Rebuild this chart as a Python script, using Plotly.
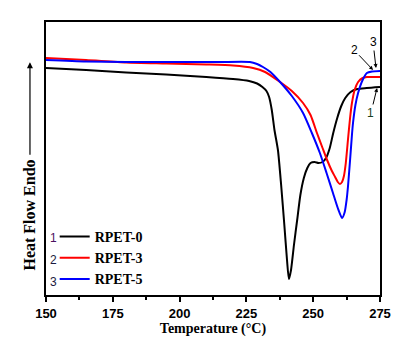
import plotly.graph_objects as go

# Temperature (°C) and heat flow (arbitrary units, endo up)
t_rpet0 = [150, 165, 180, 195, 210, 220, 226, 229, 231, 232.5, 233.5, 234.5, 235.5, 236.8, 238, 239.2,
           240.2, 240.9, 241.7, 242.8, 244, 245.2, 246.5, 247.8, 249, 250.5, 252, 253.5, 254.8, 256.2,
           257.5, 259, 260.5, 262, 264, 266.5, 270, 275]
hf_rpet0 = [232, 230, 227.5, 225.5, 223, 221, 219, 216.5, 213, 209, 203, 190, 170, 150, 115, 75,
            40, 21, 30, 55, 80, 105, 122, 132, 137, 138, 137, 138, 142, 152,
            167, 182, 194, 202, 208, 211, 212, 213]

t_rpet3 = [150, 165, 180, 195, 210, 220, 227.5, 232, 237.6, 242, 246.2, 249, 251.4, 253.5, 255.2, 257,
           258.2, 259.2, 260, 260.8, 261.5, 262.2, 263, 263.8, 264.5, 265.5, 266.8, 268.5, 270.1, 275]
hf_rpet3 = [242, 240, 237.5, 236.5, 235.5, 234.5, 232, 228, 218, 209, 197, 185, 167, 152, 140, 129,
            123, 118, 116, 118, 124, 137, 160, 182, 197, 210, 218, 222, 223, 223]

t_rpet5 = [150, 165, 180, 200, 215, 226.3, 229, 231.2, 234, 237.6, 242, 246.2, 249.5, 252.5, 255, 257.4,
           259.2, 260.8, 261.8, 262.5, 263, 263.8, 264.5, 264.9, 265.8, 266.8, 268.5, 270.1, 272, 275]
hf_rpet5 = [240, 238.5, 238, 238, 238, 238, 236, 233, 228, 218, 204, 187, 167, 147, 127, 107,
            92, 82, 88, 100, 113, 140, 165, 177, 195, 207, 220, 227, 228.5, 229]

series_names = ["RPET-0", "RPET-3", "RPET-5"]
series_colors = ["#000000", "#ff0000", "#0000ff"]
x_ticks = [150, 175, 200, 225, 250, 275]

fig = go.Figure()
for t, hf, name, col in zip([t_rpet0, t_rpet3, t_rpet5], [hf_rpet0, hf_rpet3, hf_rpet5],
                            series_names, series_colors):
    fig.add_trace(go.Scatter(x=t, y=hf, mode="lines", name=name,
                             line=dict(color=col, width=2, shape="spline", smoothing=0.6)))

serif = "Liberation Serif, Times New Roman, serif"
sans = "Liberation Sans, Arial, sans-serif"

fig.update_layout(
    width=405, height=346,
    margin=dict(l=46, r=25, t=22, b=51),
    plot_bgcolor="white", paper_bgcolor="white",
    showlegend=True,
    legend=dict(x=0.026, y=0.0, xanchor="left", yanchor="bottom",
                font=dict(family=serif, size=14, color="black", weight="bold"),
                bgcolor="rgba(0,0,0,0)", itemwidth=30, tracegroupgap=0),
    xaxis=dict(range=[150, 275], tickvals=x_ticks, ticks="outside", ticklen=5, tickwidth=1.5,
               tickcolor="black", showline=True, linecolor="black", linewidth=2, mirror=True,
               showgrid=False, zeroline=False,
               tickfont=dict(family=sans, size=13, color="black", weight="bold"),
               minor=dict(dtick=12.5, ticks="outside", ticklen=3, tickwidth=1.5, tickcolor="black"),
               title=dict(text="Temperature (°C)", standoff=4,
                          font=dict(family=serif, size=14, color="black", weight="bold"))),
    yaxis=dict(range=[5, 278], showticklabels=False, ticks="", showline=True, linecolor="black",
               linewidth=2, mirror=True, showgrid=False, zeroline=False),
)

# Y-axis label with upward arrow
fig.add_annotation(xref="paper", yref="paper", x=-0.048, y=0.084, text="<b>Heat Flow Endo</b>",
                   textangle=-90, showarrow=False, xanchor="center", yanchor="bottom",
                   font=dict(family=serif, size=16, color="black"))
fig.add_annotation(xref="paper", yref="paper", x=-0.048, y=0.853, ax=0, ay=94,
                   text="", showarrow=True, arrowhead=2,
                   arrowsize=1, arrowwidth=1.2, arrowcolor="black")

# Legend numbers
num_colors = ["#4b1060", "#1a1a40", "#1a1a40"]
for i, (num, c) in enumerate(zip(["1", "2", "3"], num_colors)):
    fig.add_annotation(xref="paper", yref="paper", x=0.038, y=0.209 - i * 0.08, text=num,
                       showarrow=False, xanchor="right", yanchor="middle",
                       font=dict(family=sans, size=12, color=c))

# Curve-end labels with arrows
end_labels = ["1", "2", "3"]
end_head_t = [273.9, 272.4, 273.5]
end_head_hf = [212, 230, 232]
end_tail_t = [271.6, 265.3, 272.4]
end_tail_hf = [187, 250, 258]
for lab, hx, hy, tx, ty, col in zip(end_labels, end_head_t, end_head_hf, end_tail_t, end_tail_hf,
                                     ["#1a4020", "black", "black"]):
    fig.add_annotation(x=hx, y=hy, ax=tx, ay=ty, axref="x", ayref="y", text=lab, showarrow=True,
                       arrowhead=2, arrowsize=0.8, arrowwidth=1, arrowcolor="black",
                       font=dict(family=sans, size=12, color=col))

fig.write_html("out.html")
